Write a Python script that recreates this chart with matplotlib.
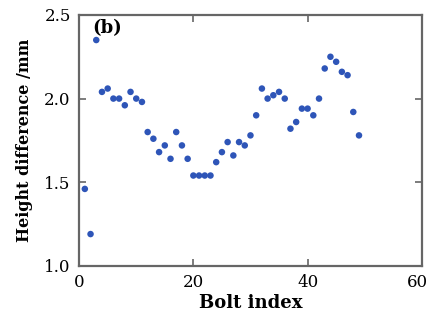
import matplotlib
matplotlib.use('Agg')
import matplotlib.pyplot as plt
from matplotlib.transforms import ScaledTranslation

# bolt index and measured height difference (mm)
bolt_index = list(range(1, 50))
height_diff = [1.46, 1.19, 2.35, 2.04, 2.06, 2.00, 2.00, 1.96, 2.04, 2.00,
               1.98, 1.80, 1.76, 1.68, 1.72, 1.64, 1.80, 1.72, 1.64, 1.54,
               1.54, 1.54, 1.54, 1.62, 1.68, 1.74, 1.66, 1.74, 1.72, 1.78,
               1.90, 2.06, 2.00, 2.02, 2.04, 2.00, 1.82, 1.86, 1.94, 1.94,
               1.90, 2.00, 2.18, 2.25, 2.22, 2.16, 2.14, 1.92, 1.78]

x_ticks = [0, 20, 40, 60]
y_ticks = [1.0, 1.5, 2.0, 2.5]

plt.rcParams['font.family'] = ['DejaVu Serif']

fig = plt.figure(figsize=(4.3, 3.25), dpi=100)
ax = fig.add_axes([0.184, 0.182, 0.797, 0.772])

ax.scatter(bolt_index, height_diff, s=22, color='#2e55b8', edgecolors='none')

ax.set_xlim(0, 60)
ax.set_ylim(1.0, 2.5)
ax.set_xticks(x_ticks)
ax.set_yticks(y_ticks)
ax.set_yticklabels([f'{v:.1f}' for v in y_ticks])
ax.tick_params(direction='in', top=True, right=True, length=5, width=1.2,
               color='#666666', labelsize=12, pad=6)
for sp in ax.spines.values():
    sp.set_color('#666666')
    sp.set_linewidth(1.6)

# nudge the last x label so it stays inside the image
last = ax.get_xticklabels()[-1]
last.set_transform(last.get_transform() + ScaledTranslation(-0.04, 0, fig.dpi_scale_trans))

ax.set_xlabel('Bolt index', fontsize=13, fontweight='bold', labelpad=2)
ax.set_ylabel('Height difference /mm', fontsize=11.5, fontweight='bold', labelpad=8)
ax.text(0.038, 0.985, '(b)', transform=ax.transAxes, fontsize=13,
        fontweight='bold', va='top', ha='left')

fig.savefig('out.png', dpi=100)
